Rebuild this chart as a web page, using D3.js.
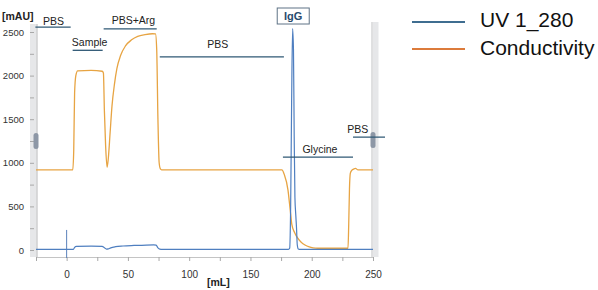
<!DOCTYPE html>
<html>
<head>
<meta charset="utf-8">
<script src="https://cdn.jsdelivr.net/npm/d3@7"></script>
<style>
  body { margin: 0; background: #fff; }
  svg { font-family: "Liberation Sans", Arial, sans-serif; }
</style>
</head>
<body>
<div id="chart"></div>
<script>
// conductivity trace (mL, plotted on mAU scale)
const condVol = [-25, 5, 5.8, 6.5, 7.5, 9, 20, 29, 30, 30.8, 31.8, 33, 34, 35.5, 37, 39, 41, 44, 48, 53, 58, 64, 70, 72.5,
  73.5, 74.5, 75.5, 76.5, 77.5, 175.7, 177.5, 180.6, 182.5, 183.8, 186, 187.9, 191, 194.5, 198, 201, 205, 229.6,
  230.2, 230.8, 231.5, 232.8, 234.5, 235.8, 237.5, 250];
const condVal = [920, 920, 1150, 1800, 2000, 2055, 2060, 2050, 2030, 1600, 1200, 950, 1050, 1350, 1650, 1900, 2080, 2230, 2340, 2410, 2450, 2470, 2480, 2478,
  2300, 1500, 1000, 930, 920, 920, 870, 690, 450, 290, 200, 150, 95, 57, 35, 25, 20, 20,
  300, 700, 880, 915, 930, 935, 920, 920];

// UV 280 trace
const uvVol = [-25, 5.5, 6.5, 8, 20, 29, 30.5, 32.5, 34, 36, 40, 46, 55, 65, 71, 73, 74.5, 76, 78,
  181, 182, 182.8, 183.6, 184.4, 185.1, 185.7, 186.3, 187, 187.6, 188.2, 189, 190, 250];
const uvVal = [8, 8, 30, 42, 44, 42, 30, 10, 12, 25, 38, 46, 52, 57, 58, 55, 25, 10, 8,
  8, 20, 500, 1700, 2540, 2300, 1300, 600, 400, 250, 60, 12, 8, 8];

// buffer phase annotations (start mL, end mL, level mAU)
const phaseLabels = ["PBS", "Sample", "PBS+Arg", "PBS", "Glycine", "PBS"];
const phaseStart = [-25.5, 4.9, 30.2, 76, 176.5, 233.7];
const phaseEnd = [3.3, 29.4, 73.5, 177.3, 233.7, 259.8];
const phaseLevel = [2555, 2290, 2535, 2215, 1065, 1295];
const phaseTextX = [-10.8, 18.8, 54.5, 123.4, 206.7, 237.5];
const phaseTextLevel = [2575, 2335, 2590, 2320, 1110, 1340];

const xTicks = [-25, 0, 25, 50, 75, 100, 125, 150, 175, 200, 225, 250];
const yTicks = [0, 500, 1000, 1500, 2000, 2500];
const yMinor = [250, 750, 1250, 1750, 2250];

const peakVol = 184.9;
const injectVol = 0;

const legendNames = ["UV 1_280", "Conductivity"];
const legendColors = ["#3f6d90", "#dc7b3b"];

const W = 598, H = 290;
const svg = d3.select("#chart").append("svg").attr("width", W).attr("height", H);

const x = d3.scaleLinear().domain([-25, 250]).range([36, 373]);
const y = d3.scaleLinear().domain([0, 2500]).range([250, 32]);
const axisY = 257;

// side scroll strips
[[30, 24], [371, 22]].forEach(([sx, sy]) => {
  svg.append("rect").attr("x", sx).attr("y", sy).attr("width", 7.5).attr("height", axisY - sy)
    .attr("fill", "#e6e7e9");
});
svg.append("line").attr("x1", 37).attr("x2", 37).attr("y1", 24).attr("y2", axisY)
  .attr("stroke", "#c4c4c4");
svg.append("line").attr("x1", 372).attr("x2", 372).attr("y1", 22).attr("y2", axisY)
  .attr("stroke", "#d8d8d8");

// x axis
const xAxis = svg.append("g").attr("transform", `translate(0,${axisY})`)
  .call(d3.axisBottom(x).tickValues(xTicks).tickSize(4).tickPadding(10)
    .tickFormat(d => d % 50 === 0 && d >= 0 ? d : ""));
xAxis.select(".domain").attr("stroke", "#c4c4c4").attr("d", `M37,0.5H373`);
xAxis.selectAll(".tick line").attr("stroke", "#a8a8a8");
xAxis.selectAll(".tick text").attr("fill", "#333").style("font-size", "10px");

// y axis labels and ticks
const yAxis = svg.append("g").attr("transform", "translate(34,0)")
  .call(d3.axisLeft(y).tickValues(yTicks.concat(yMinor)).tickSize(4).tickPadding(6)
    .tickFormat(d => yTicks.includes(d) ? d : ""));
yAxis.select(".domain").remove();
yAxis.selectAll(".tick line").attr("stroke", "#a8a8a8").attr("x2", -4);
yAxis.selectAll(".tick text").attr("fill", "#333").style("font-size", "9.5px");

// handles
[[36, 141], [373, 140]].forEach(([hx, hy]) => {
  svg.append("rect").attr("x", hx - 2.5).attr("y", hy - 8).attr("width", 5).attr("height", 16)
    .attr("rx", 2.5).attr("fill", "#8d97a6");
});

// injection marker
svg.append("line").attr("x1", x(injectVol)).attr("x2", x(injectVol))
  .attr("y1", y(230)).attr("y2", axisY + 1).attr("stroke", "#5b82bb").attr("stroke-width", 1);

const line = d3.line().x(d => x(d[0])).y(d => y(d[1])).curve(d3.curveMonotoneX);

svg.append("path").datum(d3.zip(condVol, condVal)).attr("d", line)
  .attr("fill", "none").attr("stroke", "#e7a443").attr("stroke-width", 1.3);
svg.append("path").datum(d3.zip(uvVol, uvVal)).attr("d", line)
  .attr("fill", "none").attr("stroke", "#4f7fc0").attr("stroke-width", 1.2);

// phase annotations
phaseLabels.forEach((lab, i) => {
  svg.append("line").attr("x1", x(phaseStart[i])).attr("x2", x(phaseEnd[i]))
    .attr("y1", y(phaseLevel[i])).attr("y2", y(phaseLevel[i]))
    .attr("stroke", "#2f5875").attr("stroke-width", 1.3);
  svg.append("text").attr("x", x(phaseTextX[i])).attr("y", y(phaseTextLevel[i]))
    .attr("text-anchor", "middle").attr("fill", "#222").style("font-size", "10.5px").text(lab);
});

// IgG peak label box
const px = x(peakVol);
svg.append("rect").attr("x", px - 16).attr("y", 8).attr("width", 32).attr("height", 16)
  .attr("fill", "#fff").attr("stroke", "#5e7386").attr("stroke-width", 1);
svg.append("text").attr("x", px).attr("y", 20).attr("text-anchor", "middle")
  .attr("fill", "#284b6e").style("font-size", "11px").style("font-weight", "bold").text("IgG");

// units
svg.append("text").attr("x", 2).attr("y", 20).attr("fill", "#222")
  .style("font-size", "10.5px").style("font-weight", "bold").text("[mAU]");
svg.append("text").attr("x", 207).attr("y", 286).attr("fill", "#222")
  .style("font-size", "10.5px").style("font-weight", "bold").text("[mL]");

// legend
legendNames.forEach((name, i) => {
  const ly = 22 + i * 27;
  svg.append("line").attr("x1", 412).attr("x2", 465).attr("y1", ly).attr("y2", ly)
    .attr("stroke", legendColors[i]).attr("stroke-width", 1.8);
  svg.append("text").attr("x", 480).attr("y", ly + 5 + (i ? 1 : 0)).attr("fill", "#111")
    .style("font-size", "21px").text(name);
});
</script>
</body>
</html>
